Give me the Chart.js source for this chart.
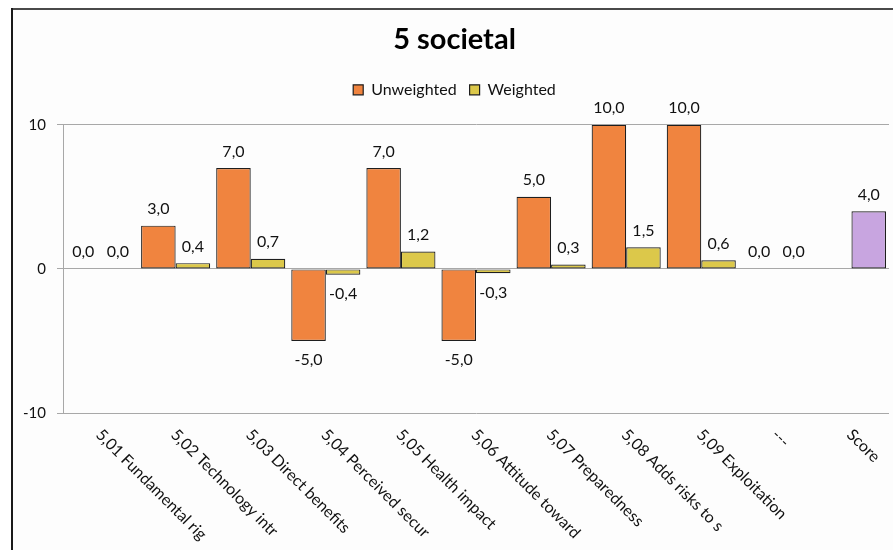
<!DOCTYPE html>
<html>
<head>
<meta charset="utf-8">
<script src="https://cdn.jsdelivr.net/npm/chart.js@4.4.1/dist/chart.umd.min.js"></script>
<style>
  html, body { margin: 0; padding: 0; background: #ffffff; overflow: hidden; }
  #wrap { position: relative; width: 893px; height: 550px; }
  canvas { display: block; }
</style>
</head>
<body>
<div id="wrap"><canvas id="c" width="893" height="550"></canvas></div>
<script>
// ---- data ----
const categories = [
  '5,01 Fundamental rig',
  '5,02 Technology intr',
  '5,03 Direct benefits',
  '5,04 Perceived secur',
  '5,05 Health impact',
  '5,06 Attitude toward',
  '5,07 Preparedness',
  '5,08 Adds risks to s',
  '5,09 Exploitation',
  '---',
  'Score'
];
const unweighted = [0, 3, 7, -5, 7, -5, 5, 10, 10, 0, null];
const weighted   = [0, 0.4, 0.7, -0.4, 1.2, -0.3, 0.3, 1.5, 0.6, 0, 4.0];
const yTicks = [-10, 0, 10];
const titleText = '5 societal';
const seriesNames = ['Unweighted', 'Weighted'];

// ---- styles ----
const FONT = 'Lato, "Open Sans", "DejaVu Sans", sans-serif';
const ORANGE = '#F0843F';
const YELLOW = '#DCC84A';
const PURPLE = '#C8A5E0';
const EDGE = '#1e1e1e';
const GRID = '#a8a8a8';
const TEXT = '#111111';

const framePlugin = {
  id: 'frame',
  beforeDraw(chart) {
    const ctx = chart.ctx;
    ctx.save();
    ctx.fillStyle = '#ffffff';
    ctx.fillRect(0, 0, chart.width, chart.height);
    ctx.fillStyle = '#fdfdfd';
    ctx.fillRect(12, 9, chart.width - 12, chart.height - 9);
    ctx.fillStyle = '#4a4a4a';
    ctx.fillRect(12, 8, chart.width - 12, 2);
    ctx.fillStyle = '#1a1a1a';
    ctx.fillRect(11, 8, 2, chart.height - 8);
    ctx.restore();
  }
};

function fmt(v) {
  return v.toFixed(1).replace('.', ',');
}

const valueLabels = {
  id: 'valueLabels',
  afterDatasetsDraw(chart) {
    const ctx = chart.ctx;
    ctx.save();
    ctx.font = '16px ' + FONT;
    ctx.fillStyle = TEXT;
    ctx.textAlign = 'center';
    ctx.textBaseline = 'alphabetic';
    chart.data.datasets.forEach((ds, di) => {
      const meta = chart.getDatasetMeta(di);
      meta.data.forEach((el, i) => {
        const v = ds.data[i];
        if (v === null || v === undefined) return;
        if (v >= 0) {
          ctx.fillText(fmt(v), el.x, el.y - 11.5);
        } else {
          ctx.fillText(fmt(v), el.x, el.y + 24.5);
        }
      });
    });
    ctx.restore();
  }
};

const xLabels = {
  id: 'xLabels',
  afterDraw(chart) {
    const ctx = chart.ctx;
    const xs = chart.scales.x;
    ctx.save();
    ctx.font = '16px ' + FONT;
    ctx.fillStyle = TEXT;
    ctx.textAlign = 'left';
    ctx.textBaseline = 'middle';
    chart.data.labels.forEach((lab, i) => {
      const x = xs.getPixelForTick(i);
      ctx.save();
      ctx.translate(x - 2, chart.chartArea.bottom + 19);
      ctx.rotate(Math.PI / 4);
      ctx.fillText(lab, 0, 0);
      ctx.restore();
    });
    ctx.restore();
  }
};

new Chart(document.getElementById('c'), {
  type: 'bar',
  data: {
    labels: categories,
    datasets: [
      {
        label: seriesNames[0],
        data: unweighted,
        backgroundColor: ORANGE,
        borderColor: EDGE,
        borderWidth: 1.2,
        borderSkipped: false
      },
      {
        label: seriesNames[1],
        data: weighted,
        backgroundColor: (c) => (c.dataIndex === weighted.length - 1 ? PURPLE : YELLOW),
        borderColor: EDGE,
        borderWidth: 1.2,
        borderSkipped: false
      }
    ]
  },
  options: {
    responsive: false,
    animation: false,
    events: [],
    categoryPercentage: 0.92,
    barPercentage: 1.0,
    layout: { padding: { left: 20, right: 4, top: 0, bottom: 0 } },
    plugins: {
      title: {
        display: true,
        text: titleText,
        color: '#000',
        font: { family: FONT, size: 29, weight: 'bold' },
        padding: { top: 22, bottom: 12 }
      },
      subtitle: {
        display: true,
        text: '',
        font: { family: FONT, size: 10 },
        padding: { top: 5, bottom: 0 }
      },
      legend: {
        display: true,
        position: 'top',
        weight: 1750,
        labels: {
          color: TEXT,
          font: { family: FONT, size: 16 },
          boxWidth: 10,
          boxHeight: 10,
          padding: 13
        }
      },
      tooltip: { enabled: false }
    },
    scales: {
      x: {
        grid: { display: false },
        border: { display: false },
        ticks: { display: false },
        afterFit(s) { s.height = 137; }
      },
      y: {
        min: -10,
        max: 10,
        afterBuildTicks(s) { s.ticks = yTicks.map(v => ({ value: v })); },
        grid: { color: GRID, lineWidth: 1, tickLength: 6, drawTicks: true },
        border: { display: true, color: GRID, width: 1 },
        ticks: {
          color: TEXT,
          font: { family: FONT, size: 15 },
          padding: 11,
          callback: (v) => String(v)
        },
        afterFit(s) { s.width = 43; }
      }
    }
  },
  plugins: [framePlugin, valueLabels, xLabels]
});
</script>
</body>
</html>
